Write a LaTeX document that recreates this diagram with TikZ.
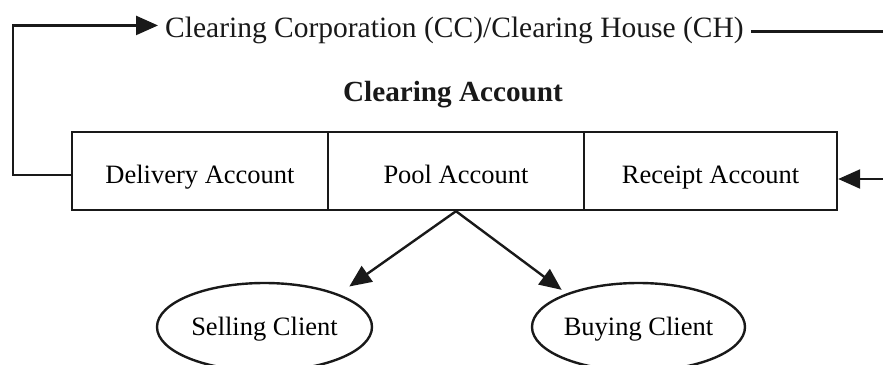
\documentclass[tikz,border=0pt]{standalone}
\usepackage{fontspec}
\setmainfont{Liberation Serif}
\usetikzlibrary{arrows.meta,shapes.geometric}
\begin{document}
\begin{tikzpicture}[x=1pt,y=-1pt,
  ln/.style={line width=2.4pt, draw=black!90},
  arr/.style={ln, -{Triangle[length=22pt,width=19pt]}},
  acct/.style={draw=black!90, line width=2.4pt, minimum height=78pt, inner sep=0pt, text height=24pt, text depth=0pt, font=\fontsize{26.5}{30}\selectfont},
  client/.style={ellipse, draw=black!90, line width=2.4pt, minimum width=215pt, minimum height=88pt, inner sep=0pt, text height=20pt, text depth=4pt, font=\fontsize{26.5}{30}\selectfont}]
\useasboundingbox (0,0) rectangle (883,364);
\node[anchor=base west, inner xsep=7pt, inner ysep=0pt, text=black!90, font=\fontsize{29.5}{34}\selectfont] (cc) at (158,37) {Clearing Corporation (CC)/Clearing House (CH)};
\node[anchor=base, inner sep=0pt, text=black!90, font=\bfseries\fontsize{29.2}{34}\selectfont] (title) at (453,101) {Clearing Account};
\node[acct, minimum width=256pt] (del) at (200,171) {Delivery Account};
\node[acct, minimum width=256pt] (pool) at (456,171) {Pool Account};
\node[acct, minimum width=253pt] (rec) at (710.5,171) {Receipt Account};
\node[client] (sell) at (264.5,327) {Selling Client};
\node[client, minimum width=213pt] (buy) at (638.5,327) {Buying Client};
\coordinate (lcorner) at (13,175);
\coordinate (rcorner) at (892,179);
\draw[arr] ([yshift=-4pt]del.west) -- (lcorner) |- ([yshift=4.5pt]cc.west);
\draw[arr] ([yshift=-1.5pt]cc.east) -| (rcorner) -- ([yshift=-8pt]rec.east);
\draw[arr, shorten >=13pt] (pool.south) -- (sell.24);
\draw[arr, shorten >=6pt] (pool.south) -- (buy.155);
\end{tikzpicture}
\end{document}
